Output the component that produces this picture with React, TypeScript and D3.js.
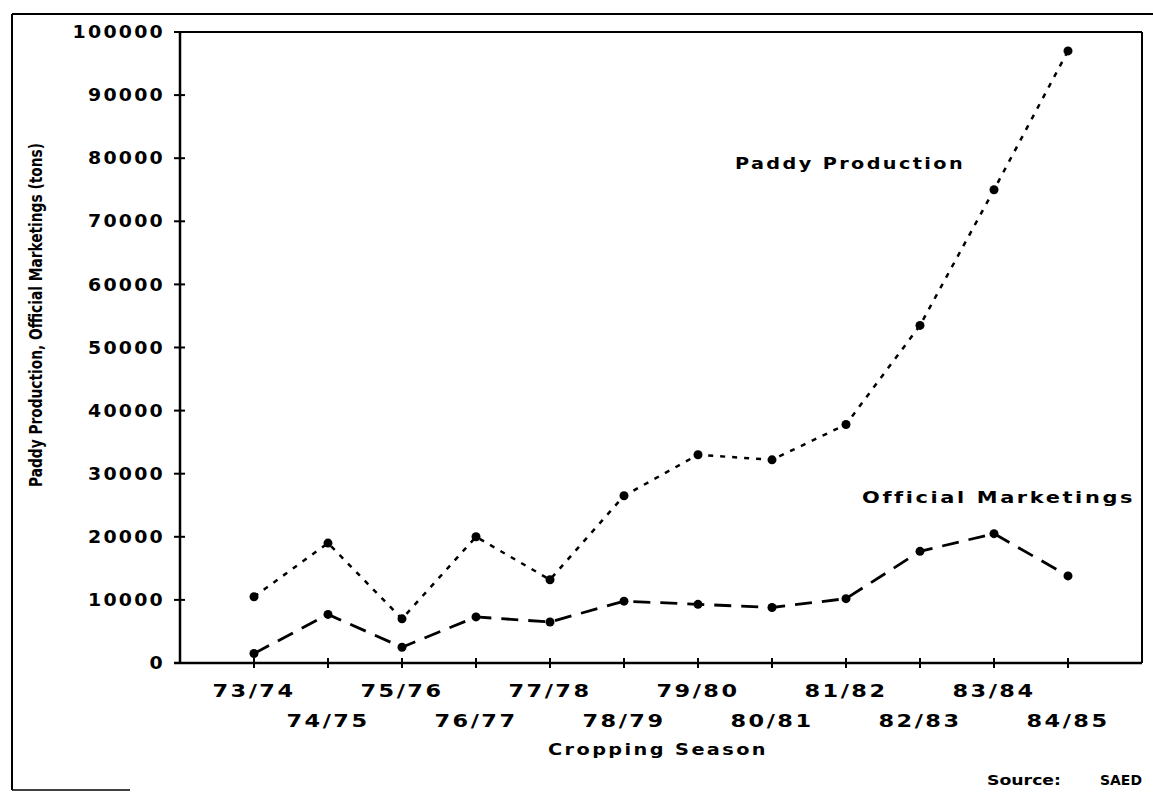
import React from "react";
import * as d3 from "d3";

const seasons = ["73/74", "74/75", "75/76", "76/77", "77/78", "78/79", "79/80", "80/81", "81/82", "82/83", "83/84", "84/85"];
const paddyProduction = [10500, 19000, 7000, 20000, 13200, 26500, 33000, 32200, 37800, 53500, 75000, 97000];
const officialMarketings = [1500, 7700, 2500, 7300, 6500, 9800, 9300, 8800, 10200, 17700, 20500, 13800];
const yTicks = [0, 10000, 20000, 30000, 40000, 50000, 60000, 70000, 80000, 90000, 100000];

const W = 1153;
const H = 792;
const left = 180;
const right = 1142;
const top = 32;
const bottom = 663;

const font = "'DejaVu Sans', Verdana, sans-serif";

export default function App() {
  const x = d3.scaleLinear().domain([-1, seasons.length]).range([left, right]);
  const xs = (i: number) => x(i);
  const y = d3.scaleLinear().domain([0, 100000]).range([bottom, top]);

  const line = d3
    .line<number>()
    .x((_, i) => xs(i))
    .y((d) => y(d));

  const tickIdx = d3.range(0, seasons.length);

  return (
    <svg
      width={W}
      height={H}
      style={{ position: "absolute", left: 0, top: 0, background: "#fff" }}
    >
      <rect x={0} y={0} width={W} height={H} fill="#fff" />
      {/* outer frame */}
      <line x1={12} y1={14} x2={W} y2={14} stroke="#000" strokeWidth={2} />
      <line x1={12} y1={14} x2={12} y2={790} stroke="#000" strokeWidth={2} />
      <line x1={12} y1={790} x2={130} y2={790} stroke="#000" strokeWidth={1.5} />

      {/* plot frame */}
      <line x1={left} y1={top} x2={right} y2={top} stroke="#000" strokeWidth={2} />
      <line x1={right} y1={top} x2={right} y2={bottom} stroke="#000" strokeWidth={2} />
      <line x1={left} y1={top - 1} x2={left} y2={bottom} stroke="#000" strokeWidth={2.5} />
      <line x1={left - 6} y1={bottom} x2={right} y2={bottom} stroke="#000" strokeWidth={2.5} />

      {/* y ticks */}
      {yTicks.map((t) => {
        const s = String(t);
        return (
          <g key={t}>
            <line x1={left - 6} x2={left + 5} y1={y(t)} y2={y(t)} stroke="#000" strokeWidth={2} />
            <text
              x={165}
              y={y(t)}
              dy="0.36em"
              textAnchor="end"
              fontFamily={font}
              fontWeight="bold"
              fontSize={17}
              letterSpacing={2}
              textLength={s.length * 15.4}
              lengthAdjust="spacingAndGlyphs"
            >
              {s}
            </text>
          </g>
        );
      })}

      {/* x ticks */}
      {tickIdx.map((i) => (
        <g key={i}>
          <line x1={xs(i)} x2={xs(i)} y1={bottom - 5} y2={bottom + 5} stroke="#000" strokeWidth={2} />
          <text
            x={xs(i)}
            y={i % 2 === 0 ? 697 : 727}
            textAnchor="middle"
            fontFamily={font}
            fontWeight="bold"
            fontSize={18}
            letterSpacing={2}
            textLength={83}
            lengthAdjust="spacingAndGlyphs"
          >
            {seasons[i]}
          </text>
        </g>
      ))}

      {/* axis titles */}
      <text
        x={658}
        y={755}
        textAnchor="middle"
        fontFamily={font}
        fontWeight="bold"
        fontSize={16}
        letterSpacing={2}
        textLength={220}
        lengthAdjust="spacingAndGlyphs"
      >
        Cropping Season
      </text>
      <text
        transform={`translate(42,${315}) rotate(-90)`}
        textAnchor="middle"
        fontFamily="'DejaVu Sans Condensed', 'Liberation Sans Narrow', sans-serif"
        fontWeight="bold"
        fontSize={17}
        textLength={344}
        lengthAdjust="spacingAndGlyphs"
      >
        Paddy Production, Official Marketings (tons)
      </text>

      {/* series */}
      <path
        d={line(paddyProduction) || ""}
        fill="none"
        stroke="#000"
        strokeWidth={2.5}
        strokeDasharray="5 7"
      />
      <path
        d={line(officialMarketings) || ""}
        fill="none"
        stroke="#000"
        strokeWidth={2.8}
        strokeDasharray="17 10"
      />
      {paddyProduction.map((v, i) => (
        <circle key={"p" + i} cx={xs(i)} cy={y(v)} r={4.5} fill="#000" />
      ))}
      {officialMarketings.map((v, i) => (
        <circle key={"m" + i} cx={xs(i)} cy={y(v)} r={4.5} fill="#000" />
      ))}

      {/* series labels */}
      <text
        x={735}
        y={169}
        fontFamily={font}
        fontWeight="bold"
        fontSize={16}
        letterSpacing={2}
        textLength={230}
        lengthAdjust="spacingAndGlyphs"
      >
        Paddy Production
      </text>
      <text
        x={862}
        y={503}
        fontFamily={font}
        fontWeight="bold"
        fontSize={16}
        letterSpacing={2}
        textLength={273}
        lengthAdjust="spacingAndGlyphs"
      >
        Official Marketings
      </text>

      {/* source */}
      <text x={987} y={785} fontFamily={font} fontWeight="bold" fontSize={14} textLength={74} lengthAdjust="spacingAndGlyphs">
        Source:
      </text>
      <text x={1100} y={785} fontFamily={font} fontWeight="bold" fontSize={14} textLength={42} lengthAdjust="spacingAndGlyphs">
        SAED
      </text>
    </svg>
  );
}
